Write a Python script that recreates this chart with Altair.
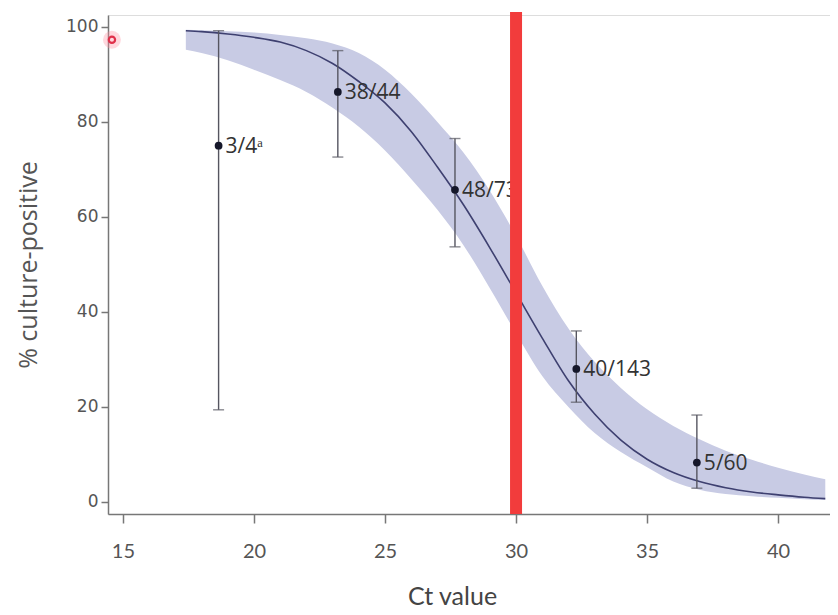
import altair as alt
import pandas as pd

# Fitted curve and its confidence band
curve_x = [17.4, 18, 19, 20, 21, 22, 23, 24, 25, 26, 27, 28, 29, 30, 31, 32, 33, 34, 35, 36, 37, 38, 39, 40, 41, 41.8]
curve_y = [99.2, 99.0, 98.5, 97.8, 96.8, 95.0, 92.3, 88.5, 84.0, 78.0, 70.5, 62.5, 53.5, 44.0, 34.5, 25.5, 18.5, 13.0, 9.0, 6.2, 4.3, 3.0, 2.1, 1.5, 1.0, 0.7]
band_hi = [99.4, 99.3, 99.1, 98.8, 98.3, 97.6, 96.5, 94.5, 91.0, 86.0, 80.0, 73.5, 65.5, 56.0, 45.5, 36.5, 29.5, 24.0, 19.5, 16.0, 13.2, 10.8, 8.9, 7.2, 5.8, 4.8]
band_lo = [95.2, 94.5, 93.0, 91.0, 88.8, 86.3, 83.0, 79.0, 74.0, 68.0, 61.5, 54.0, 45.0, 35.5, 26.5, 20.0, 14.5, 10.5, 7.3, 4.3, 2.6, 1.7, 1.2, 0.9, 0.6, 0.4]

# Observed groups
pt_x = [18.65, 23.2, 27.67, 32.3, 36.9]
pt_y = [75.0, 86.3, 65.7, 28.0, 8.3]
err_lo = [19.4, 72.6, 53.7, 21.0, 2.9]
err_hi = [99.2, 95.0, 76.5, 36.0, 18.3]
pt_label = ["3/4ᵃ", "38/44", "48/73", "40/143", "5/60"]

# Cut-off line and cursor mark
cutoff_x = [30]
cursor_x = [14.58]
cursor_y = [97.3]

x_ticks = [15, 20, 25, 30, 35, 40]
y_ticks = [0, 20, 40, 60, 80, 100]

X_TITLE = "Ct value"
Y_TITLE = "% culture-positive"

curve_df = pd.DataFrame({"x": curve_x, "y": curve_y, "hi": band_hi, "lo": band_lo})
pts_df = pd.DataFrame({"x": pt_x, "y": pt_y, "lo": err_lo, "hi": err_hi, "label": pt_label})
cut_df = pd.DataFrame({"x": cutoff_x})
cur_df = pd.DataFrame({"x": cursor_x, "y": cursor_y})

W, H = 722, 499

xscale = alt.Scale(domain=[14.43, 41.98], nice=False, zero=False)
yscale = alt.Scale(domain=[-2.53, 102.5], nice=False, zero=False)

xaxis = alt.Axis(
    values=x_ticks, grid=False, domainColor="#777777", domainWidth=1.5,
    tickColor="#777777", tickWidth=1.5, tickSize=9, labelPadding=18,
    labelFont="Lato", labelFontSize=20, labelColor="#555555",
    titleFont="Lato", titleFontSize=25, titleFontWeight="normal", titleColor="#444444",
    titleX=344, titleY=70, titleBaseline="top", titleAlign="center",
)
yaxis = alt.Axis(
    values=y_ticks, grid=False, domainColor="#777777", domainWidth=1.5,
    tickColor="#777777", tickWidth=1.5, tickSize=7, labelPadding=3,
    labelFont="DejaVu Sans", labelFontSize=17, labelColor="#555555",
    titleFont="Open Sans", titleFontSize=25, titleFontWeight="normal", titleColor="#555555",
    titleX=-67,
)

X = alt.X("x:Q", scale=xscale, axis=xaxis, title=X_TITLE)
Y = alt.Y("y:Q", scale=yscale, axis=yaxis, title=Y_TITLE)

band = alt.Chart(curve_df).mark_area(color="#c8cbe4", opacity=1, interpolate="monotone").encode(
    x=X, y=alt.Y("hi:Q", scale=yscale, axis=yaxis, title=Y_TITLE), y2="lo:Q"
)
line = alt.Chart(curve_df).mark_line(color="#3e4070", strokeWidth=1.6, interpolate="monotone").encode(x=X, y=Y)

err = alt.Chart(pts_df).mark_errorbar(ticks=True, size=11, thickness=1.4, color="#555560").encode(
    x=X, y=alt.Y("lo:Q", scale=yscale, axis=yaxis, title=Y_TITLE), y2="hi:Q"
)
pts = alt.Chart(pts_df).mark_circle(size=60, color="#15172a", opacity=1).encode(x=X, y=Y)
labels = alt.Chart(pts_df).mark_text(
    align="left", baseline="middle", dx=7, dy=1, font="Open Sans", fontSize=21, color="#333333"
).encode(x=X, y=Y, text="label:N")

cut = alt.Chart(cut_df).mark_rule(color="#f23c3c", strokeWidth=12).encode(
    x=X, y=alt.value(-3), y2=alt.value(H)
)

halo = alt.Chart(cur_df).mark_circle(size=320, color="#ff8fa0", opacity=0.35).encode(x=X, y=Y)
ring = alt.Chart(cur_df).mark_point(size=40, color="#e0304a", filled=False, strokeWidth=2.2, opacity=1).encode(
    x=X, y=Y
)

chart = alt.layer(band, line, err, pts, labels, cut, halo, ring).properties(
    width=W, height=H,
    autosize=alt.AutoSizeParams(type="none"),
    padding={"left": 100, "top": 7, "right": 0, "bottom": 96},
).configure_view(stroke=None).configure(background="white")

chart.save("out.html", embed_options={"renderer": "svg", "actions": False})
